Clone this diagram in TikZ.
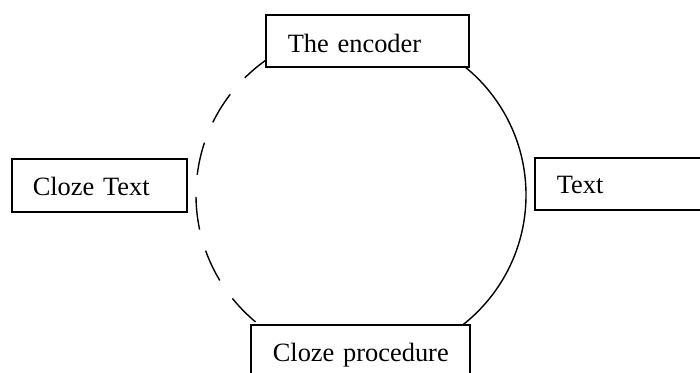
\documentclass[tikz,border=0pt]{standalone}
\usepackage{fontspec}
\setmainfont{Liberation Serif}
\begin{document}
\begin{tikzpicture}[x=1pt,y=1pt,
  box/.style={draw, fill=white, line width=1.6pt, inner xsep=22pt, inner ysep=0pt,
    text height=37pt, text depth=15pt, align=left, anchor=north west,
    font=\fontsize{26.4}{30}\selectfont},
  arcline/.style={line width=1.4pt},
  dasharc/.style={arcline, dash pattern=on 33pt off 22pt, dash phase=14pt}]
\useasboundingbox (0,0) rectangle (700,-372);
\clip (0,0) rectangle (700,-372);
\coordinate (ctr) at (361,-195);
\coordinate (top) at (361,-30);
% left half dashed, right half solid
\draw[dasharc] (top) arc[start angle=90, end angle=270, radius=165pt];
\draw[arcline] (top) arc[start angle=90, end angle=-90, radius=165pt];
% boxes
\node[box, text width=159pt, text height=38pt, text depth=14pt] (enc) at (265,-14) {\mbox{The encoder}};
\node[box, inner xsep=21pt, text width=133pt, text depth=16pt] (cloze) at (11,-158) {\mbox{Cloze Text}};
\node[box, text width=180pt, text height=36pt, text depth=16pt] (txt) at (534,-157) {\mbox{Text}};
\node[box, text width=175pt] (proc) at (250,-324) {\mbox{Cloze procedure}};
\end{tikzpicture}
\end{document}
